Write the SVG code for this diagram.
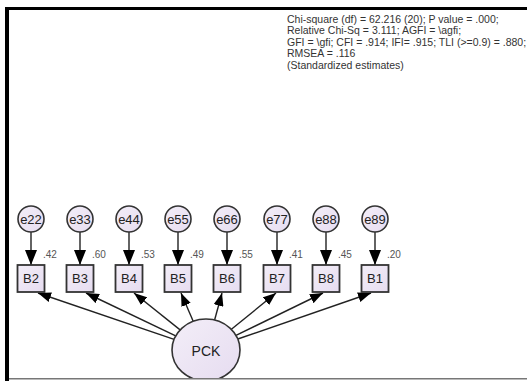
<svg xmlns="http://www.w3.org/2000/svg" width="527" height="381" viewBox="0 0 527 381">
<defs>
<marker id="ah" markerUnits="userSpaceOnUse" markerWidth="16" markerHeight="12" viewBox="0 0 16 12" refX="15" refY="6" orient="auto">
<path d="M0,0 L15,6 L0,12 Z" fill="#000"/>
</marker>
<marker id="ahs" markerUnits="userSpaceOnUse" markerWidth="14" markerHeight="10" viewBox="0 0 14 10" refX="13" refY="5" orient="auto">
<path d="M0,0 L13,5 L0,10 Z" fill="#000"/>
</marker>
<linearGradient id="g" x1="0" y1="0" x2="1" y2="1">
<stop offset="0" stop-color="#f3eef8"/>
<stop offset="1" stop-color="#e6dcf0"/>
</linearGradient>
</defs>
<style>
.err{fill:url(#g);stroke:#333;stroke-width:1.6}
.box{fill:url(#g);stroke:#333;stroke-width:1.8}
.lat{fill:url(#g);stroke:#333;stroke-width:1.6}
.t{font-family:"Liberation Sans",Arial,sans-serif;fill:#222;text-anchor:middle}
.lbl{font-family:"Liberation Sans",Arial,sans-serif;font-size:10px;fill:#555}
.fit{font-family:"Liberation Sans",Arial,sans-serif;font-size:10.5px;fill:#333}
.c{stroke:#222;stroke-width:1.4;fill:none}
</style>
<rect x="0" y="0" width="527" height="381" fill="#fff"/>
<rect x="5" y="7" width="522" height="3" fill="#000"/>
<rect x="5" y="7" width="4" height="374" fill="#000"/>
<g id="fit-text">
<text class="fit" x="287" y="23">Chi-square (df) = 62.216 (20);  P value = .000;</text>
<text class="fit" x="287" y="34">Relative Chi-Sq = 3.111; AGFI = \agfi;</text>
<text class="fit" x="287" y="45.5">GFI = \gfi; CFI = .914; IFI= .915; TLI (&gt;=0.9) = .880;</text>
<text class="fit" x="287" y="57">RMSEA = .116</text>
<text class="fit" x="287" y="68.5">(Standardized estimates)</text>
</g>
<g id="connectors">
<line class="c" x1="31" y1="232" x2="31" y2="265" marker-end="url(#ah)"/>
<line class="c" x1="80" y1="232" x2="80" y2="265" marker-end="url(#ah)"/>
<line class="c" x1="129" y1="232" x2="129" y2="265" marker-end="url(#ah)"/>
<line class="c" x1="178" y1="232" x2="178" y2="265" marker-end="url(#ah)"/>
<line class="c" x1="227" y1="232" x2="227" y2="265" marker-end="url(#ah)"/>
<line class="c" x1="277" y1="232" x2="277" y2="265" marker-end="url(#ah)"/>
<line class="c" x1="326" y1="232" x2="326" y2="265" marker-end="url(#ah)"/>
<line class="c" x1="375" y1="232" x2="375" y2="265" marker-end="url(#ah)"/>
<line class="c" x1="174.1" y1="339.4" x2="38" y2="293" marker-end="url(#ahs)"/>
<line class="c" x1="175.7" y1="335.9" x2="86" y2="293" marker-end="url(#ahs)"/>
<line class="c" x1="180.1" y1="329.9" x2="134" y2="293" marker-end="url(#ahs)"/>
<line class="c" x1="193.2" y1="321.3" x2="181" y2="293" marker-end="url(#ahs)"/>
<line class="c" x1="214.6" y1="320" x2="222" y2="293" marker-end="url(#ahs)"/>
<line class="c" x1="231.4" y1="329.3" x2="276" y2="293" marker-end="url(#ahs)"/>
<line class="c" x1="236" y1="335.4" x2="323" y2="293" marker-end="url(#ahs)"/>
<line class="c" x1="237.8" y1="339" x2="371" y2="293" marker-end="url(#ahs)"/>
</g>
<g id="e22"><circle class="err" cx="31" cy="219" r="13"/><text class="t" x="31" y="223.5" font-size="13">e22</text></g>
<g id="e33"><circle class="err" cx="80" cy="219" r="13"/><text class="t" x="80" y="223.5" font-size="13">e33</text></g>
<g id="e44"><circle class="err" cx="129" cy="219" r="13"/><text class="t" x="129" y="223.5" font-size="13">e44</text></g>
<g id="e55"><circle class="err" cx="178" cy="219" r="13"/><text class="t" x="178" y="223.5" font-size="13">e55</text></g>
<g id="e66"><circle class="err" cx="227" cy="219" r="13"/><text class="t" x="227" y="223.5" font-size="13">e66</text></g>
<g id="e77"><circle class="err" cx="277" cy="219" r="13"/><text class="t" x="277" y="223.5" font-size="13">e77</text></g>
<g id="e88"><circle class="err" cx="326" cy="219" r="13"/><text class="t" x="326" y="223.5" font-size="13">e88</text></g>
<g id="e89"><circle class="err" cx="375" cy="219" r="13"/><text class="t" x="375" y="223.5" font-size="13">e89</text></g>
<g id="B2"><rect class="box" x="17.5" y="265" width="27" height="27"/><text class="t" x="31" y="283" font-size="13">B2</text><text class="lbl" x="43" y="258">.42</text></g>
<g id="B3"><rect class="box" x="66.5" y="265" width="27" height="27"/><text class="t" x="80" y="283" font-size="13">B3</text><text class="lbl" x="92" y="258">.60</text></g>
<g id="B4"><rect class="box" x="115.5" y="265" width="27" height="27"/><text class="t" x="129" y="283" font-size="13">B4</text><text class="lbl" x="141" y="258">.53</text></g>
<g id="B5"><rect class="box" x="164.5" y="265" width="27" height="27"/><text class="t" x="178" y="283" font-size="13">B5</text><text class="lbl" x="190" y="258">.49</text></g>
<g id="B6"><rect class="box" x="213.5" y="265" width="27" height="27"/><text class="t" x="227" y="283" font-size="13">B6</text><text class="lbl" x="239" y="258">.55</text></g>
<g id="B7"><rect class="box" x="263.5" y="265" width="27" height="27"/><text class="t" x="277" y="283" font-size="13">B7</text><text class="lbl" x="289" y="258">.41</text></g>
<g id="B8"><rect class="box" x="312.5" y="265" width="27" height="27"/><text class="t" x="326" y="283" font-size="13">B8</text><text class="lbl" x="338" y="258">.45</text></g>
<g id="B1"><rect class="box" x="361.5" y="265" width="27" height="27"/><text class="t" x="375" y="283" font-size="13">B1</text><text class="lbl" x="387" y="258">.20</text></g>
<g id="PCK"><ellipse class="lat" cx="206" cy="350" rx="34" ry="31"/><text class="t" x="206" y="356" font-size="14">PCK</text></g>
<rect x="9" y="378" width="518" height="3" fill="#fff"/>
<rect x="9" y="378" width="518" height="1.5" fill="#777"/>
</svg>
